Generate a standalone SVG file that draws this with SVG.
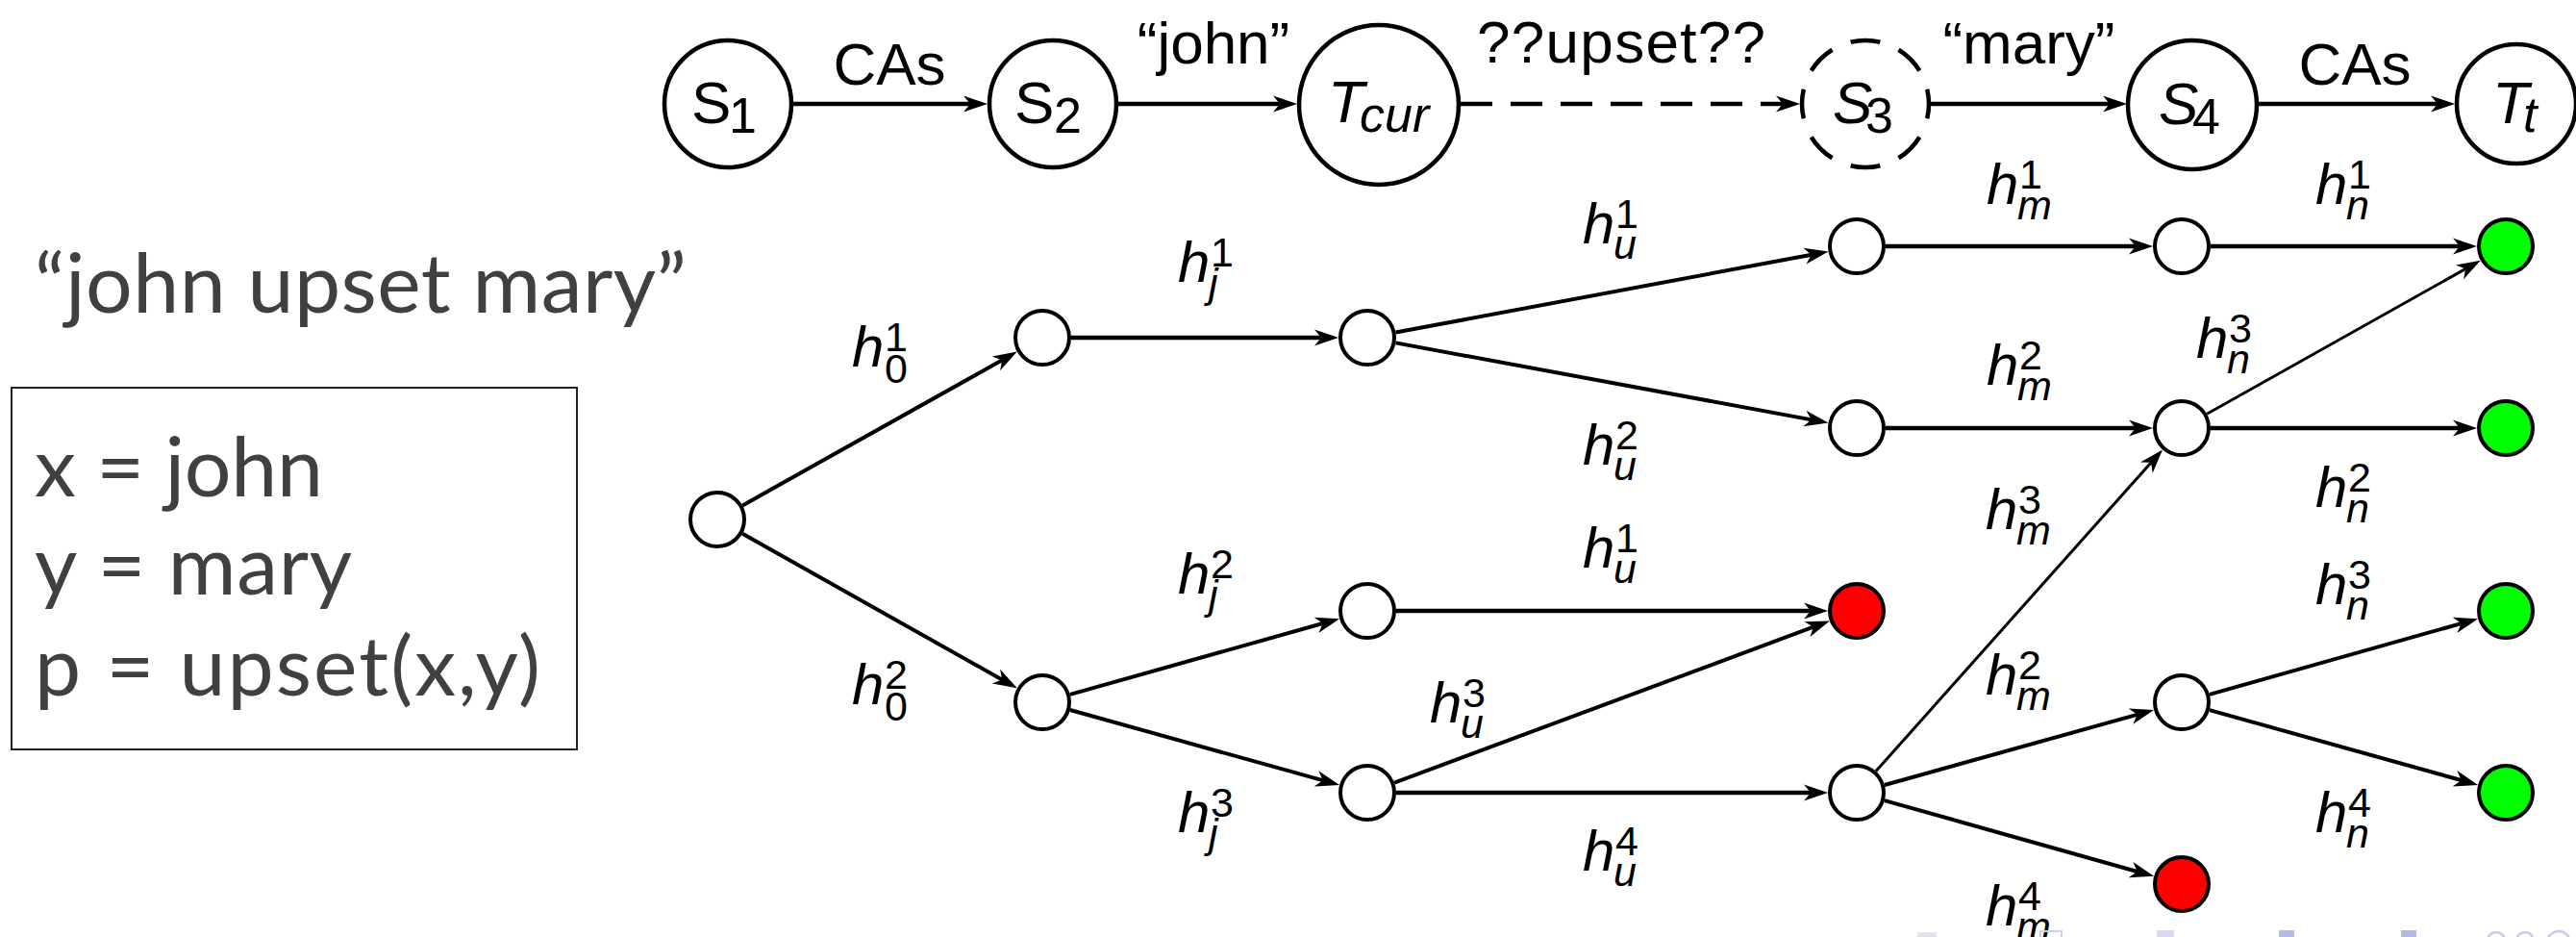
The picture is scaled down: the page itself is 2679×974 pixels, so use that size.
<svg xmlns="http://www.w3.org/2000/svg" width="2679" height="974" viewBox="0 0 2679 974">
<defs>
<marker id="ah" markerUnits="userSpaceOnUse" markerWidth="40" markerHeight="30" viewBox="-30 -15 40 30" refX="0" refY="0" orient="auto" overflow="visible">
<path d="M8,0 L-17,-8.5 L-10,0 L-17,8.5 Z" fill="#000"/>
</marker>
<style>
.big{fill:#fff;stroke:#000;stroke-width:4.5}
.nd{fill:#fff;stroke:#000;stroke-width:4}
.red{fill:#ff0000;stroke:#000;stroke-width:4}
.grn{fill:#00ff00;stroke:#000;stroke-width:4}
.ed{stroke:#000;stroke-width:4;fill:none;marker-end:url(#ah)}
.hz{stroke-width:4.6}
.thin{stroke-width:3}
.top{stroke:#000;stroke-width:4.5;fill:none;marker-end:url(#ah)}
.lbl{font-family:"Liberation Sans",Arial,Helvetica,sans-serif;font-size:62px;fill:#000}
.nl{font-family:"Liberation Sans",Arial,Helvetica,sans-serif;font-size:62px;fill:#000}
.it{font-style:italic}
.sb{font-size:52px}
.hl{font-family:"Liberation Sans",Arial,Helvetica,sans-serif;font-size:60px;font-style:italic;fill:#000}
.dg{font-size:43px;font-style:normal}
.lt{font-size:43px;font-style:italic}
.gray{font-family:Lato,"Open Sans","Noto Sans",sans-serif;font-size:86px;fill:#404040}
</style>
</defs>

<g id="connectors">
<line class="top" x1="825" y1="108" x2="1019" y2="108"/>
<line class="top" x1="1163" y1="108" x2="1341" y2="108"/>
<line class="top" x1="1519" y1="108" x2="1864" y2="108" stroke-dasharray="33 19"/>
<line class="top" x1="2008" y1="108" x2="2204" y2="108"/>
<line class="top" x1="2348" y1="108" x2="2545" y2="108"/>

<line class="ed" x1="772.2" y1="525.4" x2="1050.8" y2="369.5"/>
<line class="ed" x1="772.2" y1="554.7" x2="1050.8" y2="711.4"/>
<line class="ed hz" x1="1114" y1="351" x2="1384" y2="351"/>
<line class="ed" x1="1112.9" y1="721.9" x2="1385.4" y2="645.3"/>
<line class="ed" x1="1112.9" y1="738" x2="1385.4" y2="813.9"/>
<line class="ed" x1="1451.5" y1="345.5" x2="1893.6" y2="263"/>
<line class="ed" x1="1451.5" y1="356.4" x2="1893.6" y2="438.1"/>
<line class="ed hz" x1="1452" y1="635" x2="1893" y2="635"/>
<line class="ed" x1="1450.1" y1="813.6" x2="1895.4" y2="648.2"/>
<line class="ed hz" x1="1452" y1="824" x2="1893" y2="824"/>
<line class="ed hz" x1="1961" y1="256" x2="2231" y2="256"/>
<line class="ed hz" x1="1961" y1="445" x2="2231" y2="445"/>
<line class="ed thin" x1="1951" y1="801.6" x2="2243.7" y2="473.4"/>
<line class="ed" x1="1959.9" y1="816" x2="2232.4" y2="740.1"/>
<line class="ed" x1="1959.9" y1="832.1" x2="2232.4" y2="908.7"/>
<line class="ed hz" x1="2299" y1="256" x2="2568" y2="256"/>
<line class="ed thin" x1="2295.2" y1="430.3" x2="2572.8" y2="274.6"/>
<line class="ed hz" x1="2299" y1="445" x2="2568" y2="445"/>
<line class="ed" x1="2297.9" y1="721.9" x2="2569.4" y2="645.3"/>
<line class="ed" x1="2297.9" y1="738.1" x2="2569.4" y2="813.8"/>
</g>

<g id="edge-labels">
<text class="lbl" x="925" y="88" text-anchor="middle">CAs</text>
<text class="lbl" x="1262" y="66" text-anchor="middle">“john”</text>
<text class="lbl" x="1686" y="65" text-anchor="middle" textLength="300">??upset??</text>
<text class="lbl" x="2110" y="66" text-anchor="middle">“mary”</text>
<text class="lbl" x="2449" y="88" text-anchor="middle">CAs</text>

<text class="hl" x="886" y="381">h<tspan class="dg" x="920" y="365">1</tspan><tspan class="dg" x="920" y="398">0</tspan></text>
<text class="hl" x="886" y="732">h<tspan class="dg" x="920" y="716">2</tspan><tspan class="dg" x="920" y="749">0</tspan></text>
<text class="hl" x="1225" y="293">h<tspan class="dg" x="1259" y="277">1</tspan><tspan class="lt" x="1257" y="309">j</tspan></text>
<text class="hl" x="1225" y="617">h<tspan class="dg" x="1259" y="601">2</tspan><tspan class="lt" x="1257" y="633">j</tspan></text>
<text class="hl" x="1225" y="865">h<tspan class="dg" x="1259" y="849">3</tspan><tspan class="lt" x="1257" y="881">j</tspan></text>
<text class="hl" x="1646" y="253">h<tspan class="dg" x="1680" y="237">1</tspan><tspan class="lt" x="1678" y="269">u</tspan></text>
<text class="hl" x="1646" y="483">h<tspan class="dg" x="1680" y="467">2</tspan><tspan class="lt" x="1678" y="499">u</tspan></text>
<text class="hl" x="1646" y="590">h<tspan class="dg" x="1680" y="574">1</tspan><tspan class="lt" x="1678" y="606">u</tspan></text>
<text class="hl" x="1487" y="751">h<tspan class="dg" x="1521" y="735">3</tspan><tspan class="lt" x="1519" y="767">u</tspan></text>
<text class="hl" x="1646" y="905">h<tspan class="dg" x="1680" y="889">4</tspan><tspan class="lt" x="1678" y="921">u</tspan></text>
<text class="hl" x="2066" y="212">h<tspan class="dg" x="2100" y="196">1</tspan><tspan class="lt" x="2098" y="228">m</tspan></text>
<text class="hl" x="2066" y="400">h<tspan class="dg" x="2100" y="384">2</tspan><tspan class="lt" x="2098" y="416">m</tspan></text>
<text class="hl" x="2065" y="550">h<tspan class="dg" x="2099" y="534">3</tspan><tspan class="lt" x="2097" y="566">m</tspan></text>
<text class="hl" x="2065" y="722">h<tspan class="dg" x="2099" y="706">2</tspan><tspan class="lt" x="2097" y="738">m</tspan></text>
<text class="hl" x="2065" y="962">h<tspan class="dg" x="2099" y="946">4</tspan><tspan class="lt" x="2097" y="978">m</tspan></text>
<text class="hl" x="2408" y="212">h<tspan class="dg" x="2442" y="196">1</tspan><tspan class="lt" x="2440" y="228">n</tspan></text>
<text class="hl" x="2284" y="372">h<tspan class="dg" x="2318" y="356">3</tspan><tspan class="lt" x="2316" y="388">n</tspan></text>
<text class="hl" x="2408" y="527">h<tspan class="dg" x="2442" y="511">2</tspan><tspan class="lt" x="2440" y="543">n</tspan></text>
<text class="hl" x="2408" y="628">h<tspan class="dg" x="2442" y="612">3</tspan><tspan class="lt" x="2440" y="644">n</tspan></text>
<text class="hl" x="2408" y="865">h<tspan class="dg" x="2442" y="849">4</tspan><tspan class="lt" x="2440" y="881">n</tspan></text>
</g>

<g id="S1"><circle class="big" cx="757" cy="108" r="66"/><text class="nl" x="719" y="128">S<tspan class="sb" x="758" y="138">1</tspan></text></g>
<g id="S2"><circle class="big" cx="1095" cy="108" r="66"/><text class="nl" x="1055" y="128">S<tspan class="sb" x="1096" y="138">2</tspan></text></g>
<g id="Tcur"><circle class="big" cx="1434" cy="109" r="83"/><text class="nl it" x="1381" y="127">T<tspan class="sb" x="1414" y="137">cur</tspan></text></g>
<g id="S3"><circle class="big" cx="1940" cy="108" r="66" pathLength="800" stroke-dasharray="60 40" stroke-dashoffset="30"/><text class="nl it" x="1906" y="128">S<tspan class="sb" font-style="normal" x="1940" y="138">3</tspan></text></g>
<g id="S4"><circle class="big" cx="2280" cy="109" r="67"/><text class="nl it" x="2245" y="129">S<tspan class="sb" font-style="normal" x="2280" y="139">4</tspan></text></g>
<g id="Tt"><circle class="big" cx="2617" cy="108" r="62"/><text class="nl it" x="2592" y="128">T<tspan class="sb" x="2624" y="137">t</tspan></text></g>

<g id="n-root"><circle class="nd" cx="746" cy="540" r="28"/></g>
<g id="n-a1"><circle class="nd" cx="1084" cy="351" r="28"/></g>
<g id="n-a2"><circle class="nd" cx="1084" cy="730" r="28"/></g>
<g id="n-b1"><circle class="nd" cx="1422" cy="351" r="28"/></g>
<g id="n-b2"><circle class="nd" cx="1422" cy="635" r="28"/></g>
<g id="n-b3"><circle class="nd" cx="1422" cy="824" r="28"/></g>
<g id="n-c1"><circle class="nd" cx="1931" cy="256" r="28"/></g>
<g id="n-c2"><circle class="nd" cx="1931" cy="445" r="28"/></g>
<g id="n-r1"><circle class="red" cx="1931" cy="635" r="28"/></g>
<g id="n-c4"><circle class="nd" cx="1931" cy="824" r="28"/></g>
<g id="n-d1"><circle class="nd" cx="2269" cy="256" r="28"/></g>
<g id="n-d2"><circle class="nd" cx="2269" cy="445" r="28"/></g>
<g id="n-d3"><circle class="nd" cx="2269" cy="730" r="28"/></g>
<g id="n-r2"><circle class="red" cx="2269" cy="919" r="28"/></g>
<g id="n-g1"><circle class="grn" cx="2606" cy="256" r="28"/></g>
<g id="n-g2"><circle class="grn" cx="2606" cy="445" r="28"/></g>
<g id="n-g3"><circle class="grn" cx="2606" cy="635" r="28"/></g>
<g id="n-g4"><circle class="grn" cx="2606" cy="824" r="28"/></g>

<g id="sentence">
<text class="gray" x="36" y="325" textLength="678">“john upset mary”</text>
</g>
<g id="bindings">
<rect x="12" y="403" width="588" height="376" fill="none" stroke="#222" stroke-width="2"/>
<text class="gray" x="36" y="516" textLength="300">x = john</text>
<text class="gray" x="36" y="618" textLength="330">y = mary</text>
<text class="gray" x="36" y="723" textLength="526">p = upset(x,y)</text>
</g>

<g id="nav" fill="#c8c8ec">
<rect x="1994" y="969" width="20" height="5" fill="#e4e4ee"/>
<rect x="2122" y="968" width="22" height="7" fill="none" stroke="#d0d0ee" stroke-width="2"/>
<rect x="2243" y="967" width="18" height="7" fill="#d8d8f2"/>
<rect x="2370" y="967" width="16" height="7" fill="#b8b8e6"/>
<rect x="2497" y="967" width="16" height="7" fill="#b8b8e6"/>
<circle cx="2596" cy="978" r="9" fill="none" stroke="#c8c8ec" stroke-width="2.5"/>
<circle cx="2626" cy="978" r="9" fill="none" stroke="#c8c8ec" stroke-width="2.5"/>
<circle cx="2661" cy="980" r="12" fill="none" stroke="#c8c8ec" stroke-width="2.5"/>
</g>
</svg>
